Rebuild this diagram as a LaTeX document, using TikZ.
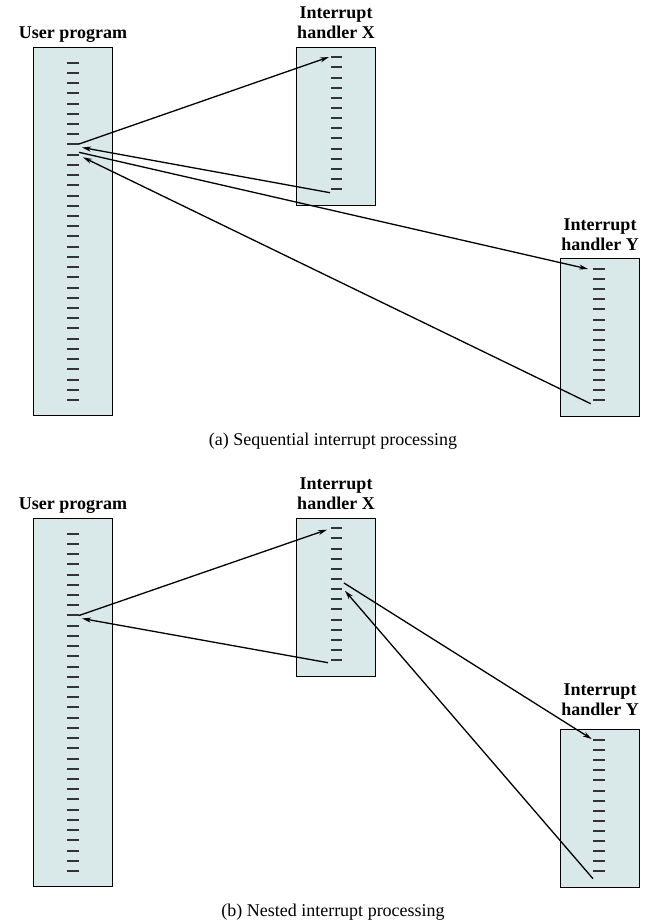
\documentclass[tikz,border=0pt]{standalone}
\usepackage{fontspec}
\setmainfont{Liberation Serif}
\usetikzlibrary{arrows.meta}
\definecolor{progfill}{RGB}{217,232,232}
\begin{document}
\begin{tikzpicture}[>={Stealth[length=9pt,width=5pt]}, x=1pt, y=-1pt,
  progbox/.style={draw=black, line width=0.8pt, fill=progfill, inner sep=0pt, anchor=north west},
  tick/.style={line width=2pt, black!80},
  flow/.style={->, line width=1.3pt},
  boxlabel/.style={font=\fontsize{18}{20}\selectfont\bfseries, align=center, inner sep=0pt, anchor=base},
  caption/.style={font=\fontsize{18}{20}\selectfont, inner sep=0pt, anchor=base}]
\useasboundingbox (0,0) rectangle (655,921);

% Parameters
\def\usernum{33}
\def\handlernum{13}

% === Both panels: boxes, ticks and labels ===
\foreach \p/\off/\ylab/\captext in {a/0/250/{(a) Sequential interrupt processing}, b/471/244/{(b) Nested interrupt processing}}{
  \begin{scope}[yshift=-\off pt]
    % User program
    \node[progbox, minimum width=79pt, minimum height=368pt] (User\p) at (33,47) {};
    \node[boxlabel] (UserLab\p) at (73,38.3) {User program};
    \foreach \i in {0,...,\usernum}{
      \coordinate (U\p-\i) at (73,{round(62.7+\i*10.22)});
      \draw[tick] ([xshift=-6pt]U\p-\i) -- ([xshift=6pt]U\p-\i);
    }
    % Interrupt handler X
    \node[progbox, minimum width=79pt, minimum height=158pt] (HandX\p) at (296,47) {};
    \node[boxlabel] (HandXLab\p) at (336,38.3) {Interrupt\\handler X};
    \foreach \i in {0,...,\handlernum}{
      \coordinate (X\p-\i) at (336.5,{round(57.3+\i*10.15)});
      \draw[tick] ([xshift=-5.5pt]X\p-\i) -- ([xshift=5.5pt]X\p-\i);
    }
    % Interrupt handler Y
    \node[progbox, minimum width=79pt, minimum height=158pt] (HandY\p) at (560,258) {};
    \node[boxlabel] (HandYLab\p) at (600,\ylab) {Interrupt\\handler Y};
    \foreach \i in {0,...,\handlernum}{
      \coordinate (Y\p-\i) at (599,{round(269+\i*10.1)});
      \draw[tick] ([xshift=-6pt]Y\p-\i) -- ([xshift=6pt]Y\p-\i);
    }
    % Caption
    \node[caption] (Cap\p) at (333,445) {\captext};
  \end{scope}
}

% === Connections, sequential ===
\draw[flow] ([shift={(6,0)}]Ua-8) -- ([shift={(-7.5,0)}]Xa-0);
\draw[flow] ([shift={(-6.5,3.7)}]Xa-13) -- ([shift={(9,3.5)}]Ua-8);
\draw[flow] ([shift={(6,-2.7)}]Ua-9) -- ([shift={(-11,0)}]Ya-0);
\draw[flow] ([shift={(-8.3,3.7)}]Ya-13) -- ([shift={(10,2.3)}]Ua-9);

% === Connections, nested ===
\draw[flow] ([shift={(6,0.5)}]Ub-8) -- ([shift={(-9.5,1.7)}]Xb-0);
\draw[flow] ([shift={(-8.5,2.7)}]Xb-13) -- ([shift={(9,3.5)}]Ub-8);
\draw[flow] ([shift={(7.5,4)}]Xb-5) -- ([shift={(-7.3,-1)}]Yb-0);
\draw[flow] ([shift={(-6,7.7)}]Yb-13) -- ([shift={(8.5,1.8)}]Xb-6);
\end{tikzpicture}
\end{document}
